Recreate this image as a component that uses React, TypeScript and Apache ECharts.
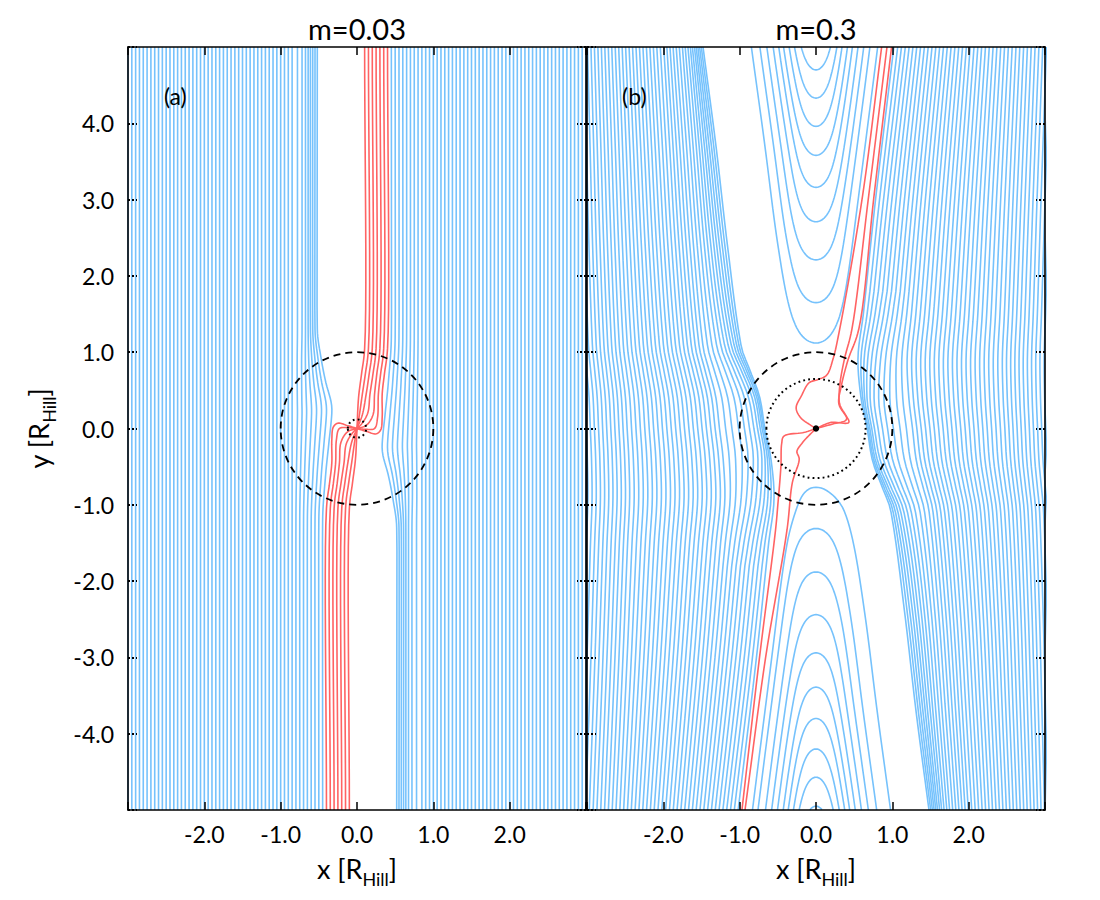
import React, { useEffect, useRef } from "react";
import * as echarts from "echarts";

const FONT = 'Lato, "Open Sans", "DejaVu Sans", sans-serif';
const BLUE = "#76c2fc";
const RED = "#ff6363";

const panelTitles = ["m=0.03", "m=0.3"];
const panelTags = ["(a)", "(b)"];
const hillRadius = 1;
const aCoreRadius = 0.12;
const bCoreRadius = 0.65;

// ---------- panel (a): m = 0.03 ----------
const aStraightX = [-3.0, -2.95, -2.9, -2.85, -2.8, -2.75, -2.7, -2.65, -2.6, -2.55, -2.5, -2.45, -2.4, -2.35, -2.3, -2.25, -2.2, -2.15, -2.1, -2.05, -2.0, -1.95, -1.9, -1.85, -1.8, -1.75, -1.7, -1.65, -1.6, -1.55, -1.5, -1.45, -1.4, -1.35, -1.3, -1.25, -1.2, -1.15, -1.1, -1.05, -1.0, -0.95, -0.9, -0.85];
const aBentX0 = [-0.45, -0.5, -0.55, -0.6, -0.65, -0.7, -0.75, -0.8];
const aBentBulge = [0.12, 0.1, 0.085, 0.07, 0.055, 0.04, 0.03, 0.02];
const aBentTop = [-0.52, -0.55, -0.58, -0.61, -0.64, -0.675, -0.72, -0.78];
const aBendY = [-5, -1.2, -0.6, -0.2, 0.2, 0.35, 0.6, 0.9, 1.3, 5];
const aBendWB = [0, 0, 0.33, 0.67, 1, 0.92, 0.53, 0.21, 0, 0];
const aBendWT = [0, 0, 0, 0, 0, 0, 0.3, 0.6, 1, 1];
const aRedLower = [
  [[-0.4, -5], [-0.4, -1.05], [-0.36, -0.72], [-0.33, -0.45], [-0.33, -0.15], [-0.31, 0.02], [-0.25, 0.07], [-0.13, 0.04], [0, 0]],
  [[-0.35, -5], [-0.35, -1.05], [-0.31, -0.72], [-0.28, -0.45], [-0.27, -0.15], [-0.23, 0.0], [-0.11, 0.01], [0, 0]],
  [[-0.3, -5], [-0.3, -1.05], [-0.26, -0.72], [-0.23, -0.45], [-0.21, -0.18], [-0.12, -0.04], [0, 0]],
  [[-0.25, -5], [-0.25, -1.05], [-0.21, -0.72], [-0.17, -0.45], [-0.14, -0.2], [-0.06, -0.06], [0, 0]],
  [[-0.2, -5], [-0.2, -1.05], [-0.16, -0.72], [-0.12, -0.45], [-0.07, -0.18], [0, 0]],
  [[-0.15, -5], [-0.15, -1.05], [-0.11, -0.72], [-0.07, -0.45], [-0.03, -0.17], [0, 0]],
  [[-0.1, -5], [-0.1, -1.05], [-0.06, -0.72], [-0.02, -0.4], [0, 0]],
];

// ---------- panel (b): m = 0.3 ----------
const bProfY = [-5, -3, -1.5, -0.93, -0.4, 0, 0.42, 0.75, 1.08, 2.4, 3.7, 5];
const bProfLow = [0, 0.24, 0.4, 0.47, 0.46, 0.43, 0.38, 0.3, 0.22, 0.1, 0.04, 0];
const bProfHigh = [0, 0, 0, 0, -0.03, -0.08, -0.1, -0.14, -0.18, -0.24, -0.33, -0.46];
const bSqueezeY = [-1.8, -0.9, -0.3, 0.2, 0.6, 1.2, 2.2, 5];
const bSqueeze = [0, 0.35, 0.8, 0.85, 0.7, 0.35, 0.1, 0];
const bSqueezeW = [0, 0.8, 0.75, 0.7, 0.62, 0.52, 0.42, 0.32, 0.22, 0.12, 0.05];
const bLeftX0 = [-1.02, -1.07, -1.12, -1.17, -1.22, -1.27, -1.32, -1.37, -1.42, -1.47, -1.52, -1.57, -1.62, -1.67, -1.72, -1.77, -1.82, -1.87, -1.92, -1.97, -2.02, -2.07, -2.12, -2.17, -2.22, -2.27, -2.32, -2.37, -2.42, -2.47, -2.52, -2.57, -2.62, -2.67, -2.72, -2.77, -2.82, -2.87, -2.92, -2.97, -3.02, -3.07, -3.12, -3.17, -3.22, -3.27, -3.32, -3.37, -3.42, -3.47];
const bAmpLow = [1.0, 0.99, 0.98, 0.96, 0.94, 0.92, 0.9, 0.88, 0.86, 0.84, 0.82, 0.8, 0.78, 0.76, 0.74, 0.72, 0.7, 0.68, 0.66, 0.64, 0.62, 0.6, 0.58, 0.56, 0.54, 0.52, 0.5, 0.48, 0.46, 0.44, 0.42, 0.4, 0.38, 0.37, 0.36, 0.35, 0.34, 0.33, 0.32, 0.31, 0.3, 0.29, 0.28, 0.27, 0.26, 0.25, 0.24, 0.23, 0.22, 0.21];
const bAmpHigh = [1.0, 0.94, 0.88, 0.82, 0.76, 0.7, 0.65, 0.6, 0.56, 0.53, 0.5, 0.48, 0.46, 0.44, 0.42, 0.4, 0.38, 0.37, 0.36, 0.35, 0.34, 0.33, 0.32, 0.31, 0.3, 0.29, 0.28, 0.27, 0.26, 0.25, 0.24, 0.23, 0.22, 0.21, 0.2, 0.19, 0.18, 0.17, 0.16, 0.15, 0.15, 0.14, 0.14, 0.13, 0.13, 0.12, 0.12, 0.11, 0.11, 0.1];
const uTopVertex = [1.12, 1.65, 2.21, 2.71, 3.16, 3.58, 3.96, 4.33, 4.7];
const uTopWidth = [0.37, 0.34, 0.32, 0.3, 0.28, 0.27, 0.25, 0.24, 0.23];
const uBotVertex = [-0.77, -1.31, -1.88, -2.44, -2.94, -3.39, -3.8, -4.2, -4.57, -4.95];
const uBotWidth = [0.38, 0.35, 0.32, 0.3, 0.28, 0.26, 0.25, 0.24, 0.23, 0.22];
const uCore = 0.37;
const bRedTop = [
  [[0.86, 5], [0.61, 3.05], [0.31, 1.3], [0.22, 0.9], [0.14, 0.7], [0.02, 0.64], [-0.09, 0.6], [-0.19, 0.43], [-0.26, 0.27], [-0.2, 0.14], [-0.08, 0.05], [0, 0]],
  [[0.93, 5], [0.69, 3.05], [0.47, 1.3], [0.37, 0.9], [0.31, 0.55], [0.31, 0.32], [0.4, 0.12], [0.22, 0.06], [0, 0]],
  [[0.99, 5], [0.76, 3.05], [0.56, 1.3], [0.42, 0.9], [0.33, 0.55], [0.3, 0.32], [0.43, 0.08], [0.2, 0.08], [0, 0]],
];
const bRedBottom = [
  [[0, 0], [-0.15, -0.05], [-0.42, -0.1], [-0.45, -0.2], [-0.46, -0.5], [-0.5, -1.0], [-0.53, -1.33], [-0.74, -3], [-0.97, -5]],
  [[0, 0], [-0.12, -0.12], [-0.18, -0.19], [-0.25, -0.3], [-0.22, -0.4], [-0.31, -0.71], [-0.38, -1.33], [-0.66, -3], [-0.93, -5]],
];

// smooth curve through profile keypoints (cubic Hermite)
function herm(xs: number[], ys: number[], x: number): number {
  const n = xs.length;
  if (x <= xs[0]) return ys[0];
  if (x >= xs[n - 1]) return ys[n - 1];
  let k = 0;
  while (x > xs[k + 1]) k++;
  const h = xs[k + 1] - xs[k];
  const t = (x - xs[k]) / h;
  const m = (i: number) => {
    if (i === 0) return (ys[1] - ys[0]) / (xs[1] - xs[0]);
    if (i === n - 1) return (ys[n - 1] - ys[n - 2]) / (xs[n - 1] - xs[n - 2]);
    return (ys[i + 1] - ys[i - 1]) / (xs[i + 1] - xs[i - 1]);
  };
  const m0 = m(k) * h;
  const m1 = m(k + 1) * h;
  const t2 = t * t;
  const t3 = t2 * t;
  return (2 * t3 - 3 * t2 + 1) * ys[k] + (t3 - 2 * t2 + t) * m0 + (-2 * t3 + 3 * t2) * ys[k + 1] + (t3 - t2) * m1;
}

// centripetal Catmull-Rom through keypoints
function spline(pts: number[][], seg = 10): number[][] {
  const n = pts.length;
  const P = [
    [2 * pts[0][0] - pts[1][0], 2 * pts[0][1] - pts[1][1]],
    ...pts,
    [2 * pts[n - 1][0] - pts[n - 2][0], 2 * pts[n - 1][1] - pts[n - 2][1]],
  ];
  const d = (a: number[], b: number[]) => Math.max(Math.sqrt(Math.hypot(b[0] - a[0], b[1] - a[1])), 1e-4);
  const mix = (a: number[], b: number[], wa: number, wb: number) => [a[0] * wa + b[0] * wb, a[1] * wa + b[1] * wb];
  const out: number[][] = [];
  for (let i = 1; i < P.length - 2; i++) {
    const p0 = P[i - 1], p1 = P[i], p2 = P[i + 1], p3 = P[i + 2];
    const t0 = 0;
    const t1 = t0 + d(p0, p1);
    const t2 = t1 + d(p1, p2);
    const t3 = t2 + d(p2, p3);
    for (let j = 0; j < seg; j++) {
      const t = t1 + ((t2 - t1) * j) / seg;
      const A1 = mix(p0, p1, (t1 - t) / (t1 - t0), (t - t0) / (t1 - t0));
      const A2 = mix(p1, p2, (t2 - t) / (t2 - t1), (t - t1) / (t2 - t1));
      const A3 = mix(p2, p3, (t3 - t) / (t3 - t2), (t - t2) / (t3 - t2));
      const B1 = mix(A1, A2, (t2 - t) / (t2 - t0), (t - t0) / (t2 - t0));
      const B2 = mix(A2, A3, (t3 - t) / (t3 - t1), (t - t1) / (t3 - t1));
      out.push(mix(B1, B2, (t2 - t) / (t2 - t1), (t - t1) / (t2 - t1)));
    }
  }
  out.push(pts[n - 1]);
  return out;
}

const DL = (y: number) => herm(bProfY, bProfLow, y);
const DH = (y: number) => herm(bProfY, bProfHigh, y);
const D = (y: number) => DL(y) + DH(y);
const Dr = (y: number) => -D(-y);

function ls(points: number[][], color: string, g: number, z = 2) {
  return {
    type: "line",
    xAxisIndex: g * 2,
    yAxisIndex: g * 2,
    data: points,
    showSymbol: false,
    symbol: "none",
    smooth: false,
    clip: true,
    silent: true,
    z,
    lineStyle: { color, width: 1.6 },
    emphasis: { disabled: true },
  };
}

function buildSeries() {
  const s: any[] = [];
  for (const x of aStraightX) {
    s.push(ls([[x, -5], [x, 5]], BLUE, 0));
    s.push(ls([[-x, -5], [-x, 5]], BLUE, 0));
  }
  const ysA: number[] = [-5];
  for (let i = 0; i <= 62; i++) ysA.push(-1.5 + i * 0.05);
  ysA.push(5);
  aBentX0.forEach((x0, i) => {
    const b = aBentBulge[i];
    const xt = aBentTop[i];
    const pts = ysA.map((y) => [x0 + b * herm(aBendY, aBendWB, y) + (xt - x0) * herm(aBendY, aBendWT, y), y]);
    s.push(ls(pts, BLUE, 0));
    s.push(ls(pts.map(([x, y]) => [-x, -y]), BLUE, 0));
  });
  aRedLower.forEach((lower) => {
    const upper = lower.slice(0, -1).reverse().map(([x, y]) => [-x, -y]);
    s.push(ls(spline([...lower, ...upper], 10), RED, 0, 3));
  });
  const bStart = s.length;
  const ysB: number[] = [];
  for (let i = 0; i <= 100; i++) ysB.push(-5 + i * 0.1);
  const base = (i: number, y: number) => bLeftX0[i] + bAmpLow[i] * DL(y) + bAmpHigh[i] * DH(y);
  bLeftX0.forEach((x0, i) => {
    const w = i < bSqueezeW.length ? bSqueezeW[i] : 0;
    const pts = ysB.map((y) => {
      const xb = base(i, y);
      const x = xb + herm(bSqueezeY, bSqueeze, y) * w * (base(0, y) - xb);
      return [x, y];
    });
    s.push(ls(pts, BLUE, 1));
    s.push(ls(pts.map(([x, y]) => [-x, -y]), BLUE, 1));
  });
  const N = 40;
  const horseshoe = (yv: number, W: number, dir: number) => {
    const H = dir > 0 ? 5 - yv : yv + 5;
    const pts: number[][] = [];
    for (let j = N; j >= 0; j--) {
      const t = H * (j / N) * (j / N);
      const y = yv + dir * t;
      pts.push([-W * Math.sqrt(t / (t + uCore)) + (D(y) - D(yv)), y]);
    }
    for (let j = 1; j <= N; j++) {
      const t = H * (j / N) * (j / N);
      const y = yv + dir * t;
      pts.push([W * Math.sqrt(t / (t + uCore)) + (Dr(y) - Dr(yv)), y]);
    }
    return pts;
  };
  uTopVertex.forEach((yv, i) => s.push(ls(horseshoe(yv, uTopWidth[i], 1), BLUE, 1)));
  uBotVertex.forEach((yv, i) => s.push(ls(horseshoe(yv, uBotWidth[i], -1), BLUE, 1)));
  bRedTop.forEach((p) => s.push(ls(spline(p, 10), RED, 1, 3)));
  bRedBottom.forEach((p) => s.push(ls(spline(p, 10), RED, 1, 3)));
  return { series: s, bStart };
}

const nameRich = {
  n: { fontSize: 27, fontFamily: FONT, color: "#000", lineHeight: 40, verticalAlign: "middle" },
  s: { fontSize: 18, fontFamily: FONT, color: "#000", lineHeight: 40, verticalAlign: "bottom" },
};

function xAxes(g: number) {
  const common = {
    type: "value",
    gridIndex: g,
    min: -3,
    max: 3,
    interval: 1,
    z: 10,
    splitLine: { show: false },
    axisLine: { show: true, onZero: false, lineStyle: { color: "#000", width: 1.6 } },
    axisTick: { show: true, inside: true, length: 8, lineStyle: { color: "#000", width: 1.5 } },
  };
  return [
    {
      ...common,
      position: "bottom",
      axisLabel: {
        show: true,
        margin: 12,
        fontSize: 23,
        color: "#000",
        fontFamily: FONT,
        formatter: (v: number) => (Math.abs(v) >= 2.999 ? "" : v.toFixed(1)),
      },
      name: "{n|x [R}{s|Hill}{n|]}",
      nameLocation: "middle",
      nameGap: 38,
      nameTextStyle: { fontFamily: FONT, color: "#000", rich: nameRich },
    },
    { ...common, position: "top", axisLabel: { show: false } },
  ];
}

function yAxes(g: number) {
  const common = {
    type: "value",
    gridIndex: g,
    min: -5,
    max: 5,
    interval: 1,
    z: 10,
    splitLine: { show: false },
    axisLine: { show: true, onZero: false, lineStyle: { color: "#000", width: 1.6 } },
    axisTick: { show: true, inside: true, length: 9, lineStyle: { color: "#000", width: 2, type: "dotted" } },
  };
  const left: any = {
    ...common,
    position: "left",
    axisLabel: {
      show: g === 0,
      margin: 14,
      fontSize: 23,
      color: "#000",
      fontFamily: FONT,
      formatter: (v: number) => (Math.abs(v) >= 4.999 ? "" : v.toFixed(1)),
    },
  };
  if (g === 0) {
    left.name = "{n|y [R}{s|Hill}{n|]}";
    left.nameLocation = "middle";
    left.nameGap = 70;
    left.nameTextStyle = { fontFamily: FONT, color: "#000", rich: nameRich };
  }
  return [left, { ...common, position: "right", axisLabel: { show: false } }];
}

export default function App() {
  const ref = useRef<HTMLDivElement>(null);
  useEffect(() => {
    document.body.style.margin = "0";
    const chart = echarts.init(ref.current as HTMLDivElement, null, { renderer: "svg" });
    const { series, bStart } = buildSeries();
    chart.setOption({
      animation: false,
      backgroundColor: "#ffffff",
      grid: [
        { left: 128, top: 47, width: 458, height: 763 },
        { left: 587, top: 47, width: 458, height: 763 },
      ],
      xAxis: [...xAxes(0), ...xAxes(1)],
      yAxis: [...yAxes(0), ...yAxes(1)],
      series,
    });
    const graphic: any[] = [];
    [0, bStart].forEach((si, g) => {
      const c = chart.convertToPixel({ seriesIndex: si }, [0, 0]) as number[];
      const cx1 = chart.convertToPixel({ seriesIndex: si }, [1, 0]) as number[];
      const cy1 = chart.convertToPixel({ seriesIndex: si }, [0, 1]) as number[];
      const ux = cx1[0] - c[0];
      const uy = c[1] - cy1[1];
      graphic.push({
        type: "ellipse",
        z: 100,
        silent: true,
        shape: { cx: c[0], cy: c[1], rx: ux * hillRadius, ry: uy * hillRadius },
        style: { fill: "none", stroke: "#000", lineWidth: 1.8, lineDash: [7, 5] },
      });
      const r = g === 0 ? aCoreRadius : bCoreRadius;
      graphic.push({
        type: "ellipse",
        z: 100,
        silent: true,
        shape: { cx: c[0], cy: c[1], rx: ux * r, ry: uy * r },
        style: { fill: "none", stroke: "#000", lineWidth: 2, lineDash: [1.8, 3.2] },
      });
      if (g === 1) {
        graphic.push({ type: "circle", z: 101, silent: true, shape: { cx: c[0], cy: c[1], r: 3.2 }, style: { fill: "#000" } });
      }
      graphic.push({
        type: "text",
        z: 100,
        silent: true,
        x: c[0],
        y: 28,
        style: { text: panelTitles[g], fontSize: 29, fontFamily: FONT, fill: "#000", textAlign: "center", textVerticalAlign: "middle" },
      });
      graphic.push({
        type: "text",
        z: 100,
        silent: true,
        x: c[0] - ux * 2.38,
        y: 96,
        style: { text: panelTags[g], fontSize: 23, fontFamily: FONT, fill: "#000", textAlign: "center", textVerticalAlign: "middle" },
      });
    });
    chart.setOption({ graphic });
    return () => chart.dispose();
  }, []);
  return <div ref={ref} style={{ width: 1100, height: 900 }} />;
}
